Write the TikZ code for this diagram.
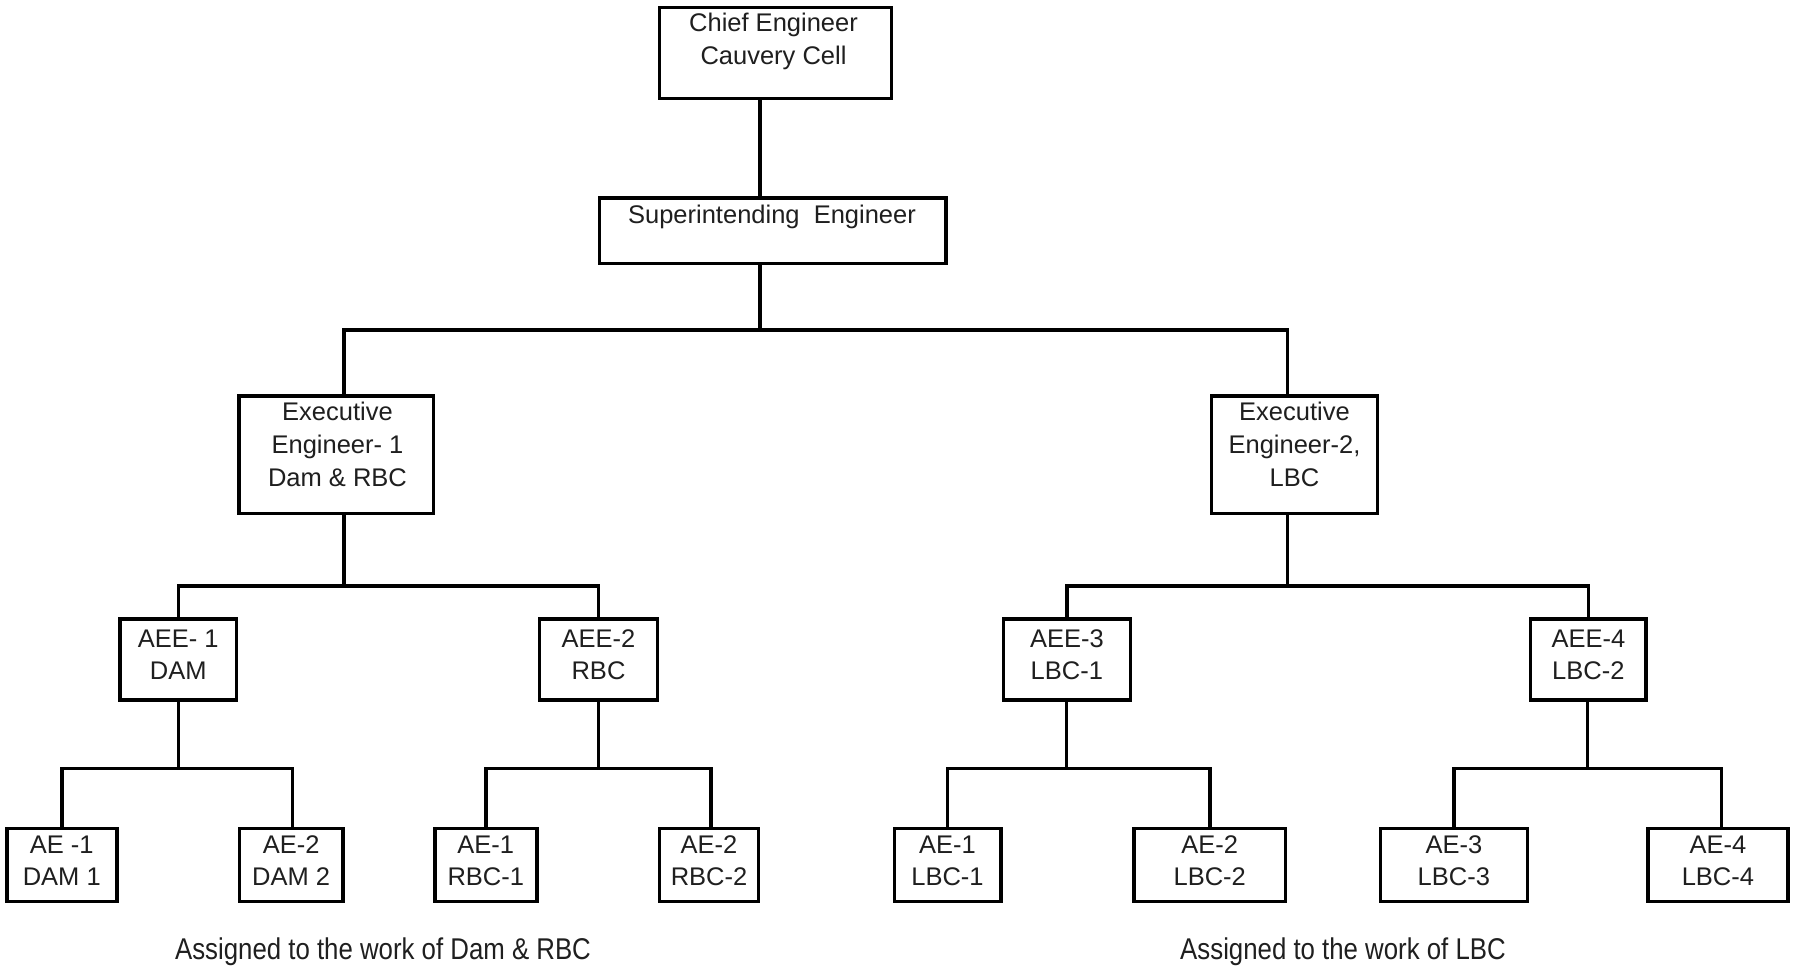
\documentclass[tikz,border=0pt]{standalone}
\usepackage{fontspec}
\setmainfont{Liberation Sans}
\newfontfamily\footfont{Liberation Sans}[FakeStretch=0.86]
\newcommand\mystrut{\rule{0pt}{25pt}}
\begin{document}
\begin{tikzpicture}[x=1pt,y=-1pt,
  box/.style={draw=black, line width=3.5pt, rectangle, inner sep=0pt, outer sep=0pt},
  lbl/.style={inner sep=0pt, anchor=north, align=center, text=black!88, font=\fontsize{25.5}{31.5}\selectfont},
  lblw/.style={lbl, font=\fontsize{25.5}{33}\selectfont},
  note/.style={inner sep=0pt, anchor=base, text=black!88, font=\footfont\fontsize{30}{36}\selectfont},
  conn/.style={line width=3.5pt, draw=black}]
\fill[white] (0,0) rectangle (1793,966);
\useasboundingbox (0,0) rectangle (1793,966);

% boxes
\node[box, minimum width=232.1pt, minimum height=90.8pt] (chief) at (775.5,52.85) {};
\node[box, minimum width=346.5pt, minimum height=65.5pt] (se) at (772.7,230.5) {};
\node[box, minimum width=194.5pt, minimum height=117.2pt] (ee1) at (336.3,454.65) {};
\node[box, minimum width=165.7pt, minimum height=117.2pt] (ee2) at (1294.4,454.65) {};
\node[box, minimum width=116.5pt, minimum height=80.9pt] (aee1) at (178.3,659.5) {};
\node[box, minimum width=118.1pt, minimum height=80.9pt] (aee2) at (598.5,659.5) {};
\node[box, minimum width=126.8pt, minimum height=80.9pt] (aee3) at (1066.85,659.5) {};
\node[box, minimum width=115.4pt, minimum height=80.9pt] (aee4) at (1588.35,659.5) {};
\node[box, minimum width=110pt, minimum height=73.3pt] (d1) at (61.75,864.9) {};
\node[box, minimum width=103.5pt, minimum height=73.3pt] (d2) at (291.1,864.9) {};
\node[box, minimum width=102pt, minimum height=73.3pt] (r1) at (485.75,864.9) {};
\node[box, minimum width=99.3pt, minimum height=73.3pt] (r2) at (709,864.9) {};
\node[box, minimum width=106.5pt, minimum height=73.3pt] (l1) at (947.5,864.9) {};
\node[box, minimum width=151.6pt, minimum height=73.3pt] (l2) at (1209.75,864.9) {};
\node[box, minimum width=147.2pt, minimum height=73.3pt] (l3) at (1453.85,864.9) {};
\node[box, minimum width=140.3pt, minimum height=73.3pt] (l4) at (1717.9,864.9) {};

% texts
\node[lblw] (chiefT) at (773.5,6.6) {\mystrut Chief Engineer\\Cauvery Cell};
\node[lbl] (seT) at (772,198.3) {\mystrut Superintending\ \ Engineer};
\node[lblw] (ee1T) at (337.5,395) {\mystrut Executive\\Engineer- 1\\Dam \& RBC};
\node[lblw] (ee2T) at (1294.5,395) {\mystrut Executive\\Engineer-2,\\LBC};
\node[lbl] (aee1T) at (178.3,622.5) {\mystrut AEE- 1\\DAM};
\node[lbl] (aee2T) at (598.5,622.5) {\mystrut AEE-2\\RBC};
\node[lbl] (aee3T) at (1066.85,622.5) {\mystrut AEE-3\\LBC-1};
\node[lbl] (aee4T) at (1588.35,622.5) {\mystrut AEE-4\\LBC-2};
\node[lbl] (d1T) at (61.75,828.5) {\mystrut AE -1\\DAM 1};
\node[lbl] (d2T) at (291.1,828.5) {\mystrut AE-2\\DAM 2};
\node[lbl] (r1T) at (485.75,828.5) {\mystrut AE-1\\RBC-1};
\node[lbl] (r2T) at (709,828.5) {\mystrut AE-2\\RBC-2};
\node[lbl] (l1T) at (947.5,828.5) {\mystrut AE-1\\LBC-1};
\node[lbl] (l2T) at (1209.75,828.5) {\mystrut AE-2\\LBC-2};
\node[lbl] (l3T) at (1453.85,828.5) {\mystrut AE-3\\LBC-3};
\node[lbl] (l4T) at (1717.9,828.5) {\mystrut AE-4\\LBC-4};

\node[note] (noteL) at (383,959.3) {Assigned to the work of Dam \& RBC};
\node[note] (noteR) at (1343,959.3) {Assigned to the work of LBC};

% junctions
\coordinate (j0) at (760,330);
\coordinate (b0L) at (344,330);
\coordinate (b0R) at (1287.6,330);
\coordinate (j1) at (344,586);
\coordinate (j2) at (1287.6,586);
\coordinate (j3) at (178.3,768.4);
\coordinate (j4) at (598.3,768.4);
\coordinate (j5) at (1066.4,768.4);
\coordinate (j6) at (1587.6,768.4);

% connectors
\draw[conn] (chief.south -| j0) -- (se.north -| j0);
\draw[conn] (se.south -| j0) -- (j0);
\draw[conn] (ee1.north -| b0L) -- (b0L) -- (b0R) -- (ee2.north -| b0R);

\draw[conn] (ee1.south -| j1) -- (j1);
\draw[conn] (aee1.north) -- (aee1.north |- j1) -- (aee2.north |- j1) -- (aee2.north);
\draw[conn] (ee2.south -| j2) -- (j2);
\draw[conn] (aee3.north) -- (aee3.north |- j2) -- (aee4.north |- j2) -- (aee4.north);

\draw[conn] (aee1.south -| j3) -- (j3);
\draw[conn] (d1.north) -- (d1.north |- j3) -- ([xshift=1.5pt]d2.north |- j3) -- ([xshift=1.5pt]d2.north);
\draw[conn] (aee2.south -| j4) -- (j4);
\draw[conn] (r1.north) -- (r1.north |- j4) -- ([xshift=2pt]r2.north |- j4) -- ([xshift=2pt]r2.north);
\draw[conn] (aee3.south -| j5) -- (j5);
\draw[conn] (l1.north) -- (l1.north |- j5) -- (l2.north |- j5) -- (l2.north);
\draw[conn] (aee4.south -| j6) -- (j6);
\draw[conn] (l3.north) -- (l3.north |- j6) -- ([xshift=3.5pt]l4.north |- j6) -- ([xshift=3.5pt]l4.north);
\end{tikzpicture}
\end{document}
